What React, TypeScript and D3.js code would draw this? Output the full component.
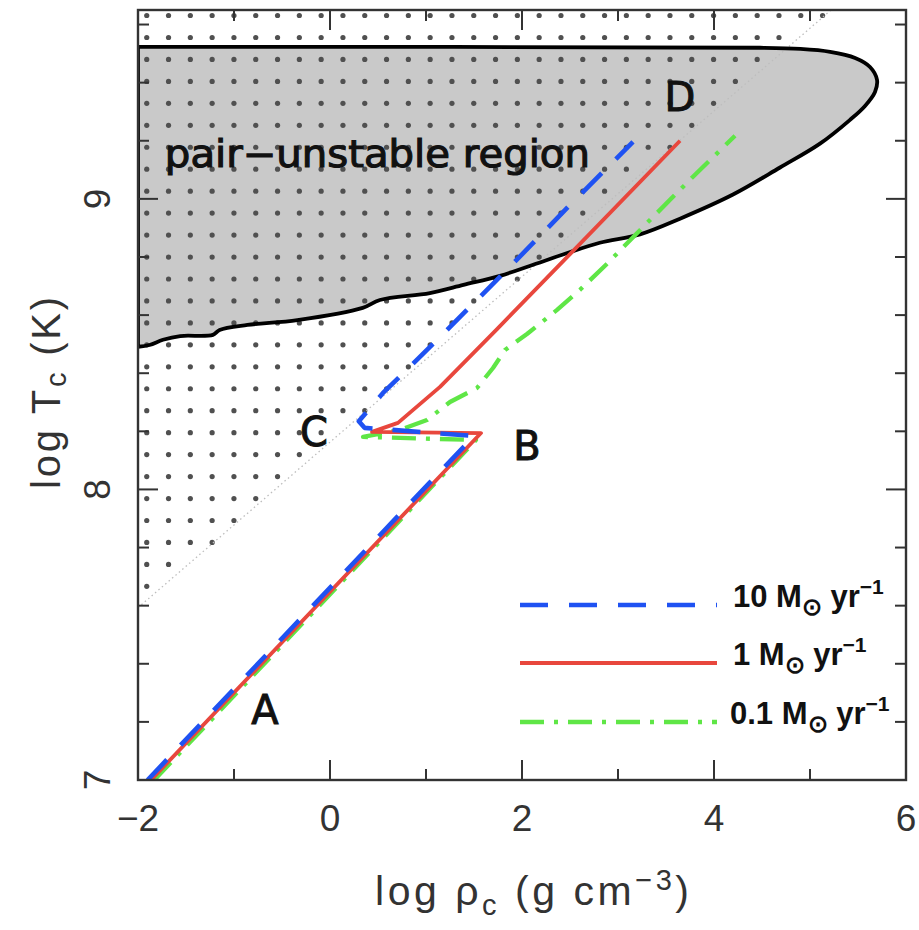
import React from 'react';
import * as d3 from 'd3';

// ---------- data ----------
const xTickMajor = [-2, 0, 2, 4, 6];
const xTickMinor = [-1, 1, 3, 5];
const yTickMajor = [7, 8, 9];
const yTickMinor = [7.2, 7.4, 7.6, 7.8, 8.2, 8.4, 8.6, 8.8, 9.2, 9.4, 9.6];

// pair-unstable region boundary (log rho, log T)
const boundaryRho = [-2, 4.48, 4.9, 5.21, 5.47, 5.625, 5.698, 5.677, 5.573, 5.417, 5.104, 4.688, 4.198, 3.646, 3.229, 2.81, 2.45, 2.08, 1.77, 1.39, 1.04, 0.52, 0.34, -0.34, -0.86, -1.15, -1.22, -1.56, -1.74, -1.88, -2];
const boundaryT = [9.523, 9.52, 9.516, 9.506, 9.485, 9.454, 9.41, 9.368, 9.32, 9.272, 9.19, 9.108, 9.015, 8.932, 8.878, 8.849, 8.811, 8.769, 8.735, 8.704, 8.676, 8.652, 8.625, 8.583, 8.566, 8.549, 8.532, 8.528, 8.515, 8.497, 8.491];

// dotted diagonal line (radiation/gas boundary)
const diagRho = [-2, 5.22];
const diagT = [7.593, 9.65];

// tracks
const blueRho = [-1.9, 1.5, 0.36, 0.3, 0.552, 1.01, 1.844, 2.5, 3.156];
const blueT = [7.0, 8.184, 8.212, 8.235, 8.332, 8.48, 8.756, 8.979, 9.196];

const redRho = [-1.865, 1.573, 0.4375, 0.708, 1.146, 1.74, 2.5, 3.646];
const redT = [7.0, 8.194, 8.198, 8.229, 8.353, 8.552, 8.81, 9.2];

const greenRho = [-1.83, 1.52, 0.344, 0.729, 1.01, 1.25, 1.531, 1.698, 1.823, 2.052, 2.365, 2.604, 2.896, 3.302, 3.781, 4.219];
const greenT = [7.0, 8.17, 8.181, 8.205, 8.239, 8.301, 8.349, 8.418, 8.48, 8.535, 8.618, 8.687, 8.78, 8.917, 9.076, 9.217];

const legendLabels = ['10', '1', '0.1'];
const pointLabels = ['A', 'B', 'C', 'D'];
const pointRho = [-0.677, 2.052, -0.167, 3.646];
const pointT = [7.241, 8.15, 8.198, 9.351];

// ---------- layout ----------
const W = 919;
const H = 930;
const L = 138, R = 906, T = 10, B = 780;

const x = d3.scaleLinear().domain([-2, 6]).range([L, R]);
const y = d3.scaleLinear().domain([7, 9.65]).range([B, T]);

// dot hatching pattern (in data units)
const dotRho0 = -1.909, dotRhoStep = 0.2271;
const dotT0 = 9.631, dotTStep = 0.07556;

function diagAt(r: number) {
  const s = (diagT[1] - diagT[0]) / (diagRho[1] - diagRho[0]);
  return diagT[0] + s * (r - diagRho[0]);
}

const line = d3.line<[number, number]>().x(d => x(d[0])).y(d => y(d[1]));
const zip = (a: number[], b: number[]) => a.map((v, i) => [v, b[i]] as [number, number]);

const COLORS = { blue: '#1f52f2', red: '#e8473d', green: '#5fe646' };
const tickFont = '"Liberation Sans", Arial, sans-serif';

export default function App() {
  const dots: [number, number][] = [];
  for (let i = 0; i < 40; i++) {
    for (let j = 0; j < 40; j++) {
      const r = dotRho0 + i * dotRhoStep;
      const t = dotT0 - j * dotTStep;
      if (r > 6 || t < 7) continue;
      if (t > diagAt(r)) dots.push([r, t]);
    }
  }

  const boundaryPath = d3.line<[number, number]>()
    .x(d => x(d[0])).y(d => y(d[1]))
    .curve(d3.curveCatmullRom.alpha(0.5))(zip(boundaryRho, boundaryT)) + 'Z';

  const legendY = [605, 663, 722];
  const legendColors = [COLORS.blue, COLORS.red, COLORS.green];
  const legendDash = ['28,21', null, '24,10,4,10'];

  return (
    <svg width={W} height={H} style={{ position: 'absolute', left: 0, top: 0, background: '#fff' }}>
      <defs>
        <clipPath id="plot">
          <rect x={L} y={T} width={R - L} height={B - T} />
        </clipPath>
      </defs>
      <rect x={0} y={0} width={W} height={H} fill="#fff" />
      <g clipPath="url(#plot)">
        <path d={boundaryPath} fill="#c9c9c9" stroke="none" />
        {dots.map((d, i) => (
          <circle key={i} cx={x(d[0])} cy={y(d[1])} r={2.6} fill="#505050" />
        ))}
        <path d={line(zip(diagRho, diagT)) || ''} fill="none" stroke="#bdbdbd" strokeWidth={1.3} strokeDasharray="1.5,3" />
        <path d={boundaryPath} fill="none" stroke="#000" strokeWidth={3.8} strokeLinejoin="round" />
        <path d={line(zip(greenRho, greenT)) || ''} fill="none" stroke={COLORS.green} strokeWidth={4.3} strokeDasharray="24,10,4,10" strokeLinejoin="round" />
        <path d={line(zip(redRho, redT)) || ''} fill="none" stroke={COLORS.red} strokeWidth={3.8} strokeLinejoin="round" />
        <path d={line(zip(blueRho, blueT)) || ''} fill="none" stroke={COLORS.blue} strokeWidth={4.6} strokeDasharray="28,20" strokeLinejoin="round" />
      </g>

      {/* region label */}
      <text x={x(-1.72)} y={y(9.11)} fontFamily='"DejaVu Sans", sans-serif' fontSize={37} fill="#111"
        stroke="#111" strokeWidth={1.1} textLength={425} lengthAdjust="spacingAndGlyphs">pair−unstable region</text>

      {pointLabels.map((p, i) => (
        <text key={p} x={x(pointRho[i])} y={y(pointT[i])} textAnchor="middle" dominantBaseline="central"
          fontFamily='"DejaVu Sans", sans-serif' fontSize={40} fill="#111" stroke="#111" strokeWidth={1}>{p}</text>
      ))}

      {/* legend */}
      {legendLabels.map((lab, i) => (
        <g key={lab}>
          <line x1={520} x2={717} y1={legendY[i]} y2={legendY[i]} stroke={legendColors[i]} strokeWidth={i === 1 ? 3.8 : 4.4}
            strokeDasharray={legendDash[i] || undefined} />
          <text x={lab === '0.1' ? 730 : 733} y={legendY[i] + 2} fontFamily={tickFont} fontSize={31} fontWeight="bold" fill="#111">
            {lab} M<tspan fontSize={24} dy={8}>⊙</tspan><tspan dy={-8}> yr</tspan><tspan fontSize={21} dy={-13}>−1</tspan>
          </text>
        </g>
      ))}

      {/* frame */}
      <rect x={L} y={T} width={R - L} height={B - T} fill="none" stroke="#333" strokeWidth={2.4} />
      {xTickMajor.map(v => (
        <g key={'xM' + v}>
          <line x1={x(v)} x2={x(v)} y1={B} y2={B - 20} stroke="#333" strokeWidth={2} />
          <line x1={x(v)} x2={x(v)} y1={T} y2={T + 20} stroke="#333" strokeWidth={2} />
        </g>
      ))}
      {xTickMinor.map(v => (
        <g key={'xm' + v}>
          <line x1={x(v)} x2={x(v)} y1={B} y2={B - 11} stroke="#333" strokeWidth={2} />
          <line x1={x(v)} x2={x(v)} y1={T} y2={T + 11} stroke="#333" strokeWidth={2} />
        </g>
      ))}
      {yTickMajor.map(v => (
        <g key={'yM' + v}>
          <line x1={L} x2={L + 20} y1={y(v)} y2={y(v)} stroke="#333" strokeWidth={2} />
          <line x1={R} x2={R - 20} y1={y(v)} y2={y(v)} stroke="#333" strokeWidth={2} />
        </g>
      ))}
      {yTickMinor.map(v => (
        <g key={'ym' + v}>
          <line x1={L} x2={L + 11} y1={y(v)} y2={y(v)} stroke="#333" strokeWidth={2} />
          <line x1={R} x2={R - 11} y1={y(v)} y2={y(v)} stroke="#333" strokeWidth={2} />
        </g>
      ))}

      {/* tick labels */}
      {xTickMajor.map(v => (
        <text key={'xl' + v} x={x(v)} y={831} textAnchor="middle" fontFamily={tickFont} fontSize={37} fill="#333">
          {v < 0 ? '−' + Math.abs(v) : String(v)}
        </text>
      ))}
      {yTickMajor.map(v => (
        <text key={'yl' + v} transform={`translate(97,${y(v)}) rotate(-90)`} textAnchor="middle" dominantBaseline="central"
          fontFamily={tickFont} fontSize={37} fill="#333">{v}</text>
      ))}

      {/* axis labels */}
      <text x={(L + R) / 2 + 10} y={905} textAnchor="middle" fontFamily={tickFont} fontSize={41} fill="#333"
        textLength={314} lengthAdjust="spacing">
        log ρ<tspan fontSize={29} dy={10}>c</tspan><tspan dy={-10}> (g cm</tspan><tspan fontSize={29} dy={-15}>−3</tspan><tspan dy={15}>)</tspan>
      </text>
      <text transform={`translate(46,393) rotate(-90)`} textAnchor="middle" fontFamily={tickFont} fontSize={40} fill="#333"
        dominantBaseline="central" textLength={192} lengthAdjust="spacing">
        log T<tspan fontSize={29} dy={10}>c</tspan><tspan dy={-10}> (K)</tspan>
      </text>
    </svg>
  );
}
